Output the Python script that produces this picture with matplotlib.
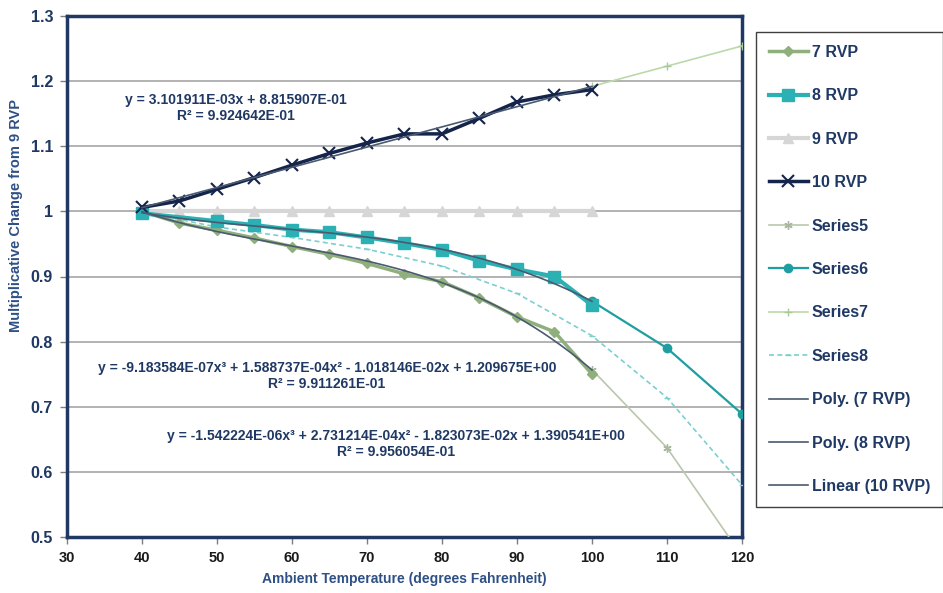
import matplotlib
matplotlib.use("Agg")
import matplotlib.pyplot as plt
import numpy as np

plt.rcParams['font.family'] = ['Liberation Sans', 'DejaVu Sans']

# ---- data ----
temp_7 = [40, 45, 50, 55, 60, 65, 70, 75, 80, 85, 90, 95, 100]
rvp7 = [1.000, 0.982, 0.971, 0.959, 0.946, 0.934, 0.920, 0.904, 0.892, 0.867, 0.838, 0.815, 0.750]

temp_8 = [40, 50, 55, 60, 65, 70, 75, 80, 85, 90, 95, 100]
rvp8 = [0.997, 0.985, 0.979, 0.972, 0.968, 0.960, 0.951, 0.941, 0.924, 0.911, 0.900, 0.856]

temp_9 = [40, 45, 50, 55, 60, 65, 70, 75, 80, 85, 90, 95, 100]
rvp9 = [1.0, 1.0, 1.0, 1.0, 1.0, 1.0, 1.0, 1.0, 1.0, 1.0, 1.0, 1.0, 1.0]

temp_10 = [40, 45, 50, 55, 60, 65, 70, 75, 80, 85, 90, 95, 100]
rvp10 = [1.006, 1.016, 1.034, 1.052, 1.071, 1.089, 1.105, 1.119, 1.119, 1.143, 1.168, 1.179, 1.187]

temp_ext = [100, 110, 120]
series5 = [0.757, 0.637, 0.471]
series6 = [0.862, 0.790, 0.689]
series7 = [1.192, 1.223, 1.254]

temp_s8 = [40, 50, 60, 70, 80, 90, 100, 110, 120]
series8 = [0.999, 0.976, 0.960, 0.942, 0.916, 0.874, 0.809, 0.714, 0.580]

# trendline coefficients (as displayed on chart)
poly7_coef = [-1.542224E-06, 2.731214E-04, -1.823073E-02, 1.390541E+00]
poly8_coef = [-9.183584E-07, 1.588737E-04, -1.018146E-02, 1.209675E+00]
lin10_coef = [3.101911E-03, 8.815907E-01]

eq10 = "y = 3.101911E-03x + 8.815907E-01\nR² = 9.924642E-01"
eq8 = "y = -9.183584E-07x³ + 1.588737E-04x² - 1.018146E-02x + 1.209675E+00\nR² = 9.911261E-01"
eq7 = "y = -1.542224E-06x³ + 2.731214E-04x² - 1.823073E-02x + 1.390541E+00\nR² = 9.956054E-01"

x_ticks = [30, 40, 50, 60, 70, 80, 90, 100, 110, 120]
y_ticks = [0.5, 0.6, 0.7, 0.8, 0.9, 1.0, 1.1, 1.2, 1.3]
y_ticklabels = ['0.5', '0.6', '0.7', '0.8', '0.9', '1', '1.1', '1.2', '1.3']

# ---- style ----
navy = '#1f3864'
c7 = '#8fb07c'
c8 = '#2bb0b3'
c9 = '#d6d6d6'
c10 = '#14244a'
c5 = '#b9c8ad'
c6 = '#1f9ea2'
c7s = '#bcd9ab'
c8s = '#7ccfcf'
ctr = '#4a5a70'

fig = plt.figure(figsize=(9.43, 5.93), dpi=100)
ax = fig.add_axes([67/943, 1-537/593, (742-67)/943, (537-16)/593])
ax.set_xlim(30, 120)
ax.set_ylim(0.5, 1.3)

ax.set_yticks(y_ticks)
ax.set_yticklabels(y_ticklabels)
ax.set_xticks(x_ticks)
ax.grid(axis='y', color='#a6a6a6', lw=1.2, zorder=0)
for s in ax.spines.values():
    s.set_color(navy)
    s.set_linewidth(2.5)
ax.tick_params(axis='both', colors='#7f7f7f', length=5, width=1, direction='out')
for lab in ax.get_yticklabels():
    lab.set_color(navy); lab.set_fontweight('bold'); lab.set_fontsize(11.5)
for lab in ax.get_xticklabels():
    lab.set_color('#1a1a1a'); lab.set_fontweight('bold'); lab.set_fontsize(10.5)
ax.tick_params(axis='y', pad=5)
ax.tick_params(axis='x', pad=5)

ax.set_xlabel('Ambient Temperature (degrees Fahrenheit)', fontsize=10, fontweight='bold', color='#2f5085', labelpad=5)
fig.text(16/943, 1-215/593, 'Multiplicative Change from 9 RVP', rotation=90, fontsize=10.5,
         fontweight='bold', color='#2f5085', ha='center', va='center')

h9, = ax.plot(temp_9, rvp9, color=c9, lw=3, marker='^', ms=7, mfc=c9, mec=c9, zorder=3, label='9 RVP')
h5, = ax.plot(temp_ext, series5, color=c5, lw=1.2, marker=(6, 2, 0), ms=6, mec='#a9b89d', zorder=3, label='Series5')
h6, = ax.plot(temp_ext, series6, color=c6, lw=1.6, marker='o', ms=6, mfc=c6, mec=c6, zorder=3, label='Series6')
h7s, = ax.plot(temp_ext, series7, color=c7s, lw=1.2, marker='+', ms=6, mec='#a9c99a', zorder=3, label='Series7')
h8s, = ax.plot(temp_s8, series8, color=c8s, lw=1.2, ls=(0, (3, 2)), marker='_', ms=5, mec=c8s, zorder=3, label='Series8')
h7, = ax.plot(temp_7, rvp7, color=c7, lw=2.5, marker='D', ms=5.5, mfc=c7, mec=c7, zorder=4, label='7 RVP')
h8, = ax.plot(temp_8, rvp8, color=c8, lw=3, marker='s', ms=8.5, mfc=c8, mec=c8, zorder=4, label='8 RVP')
h10, = ax.plot(temp_10, rvp10, color=c10, lw=2.5, marker='x', ms=8, mew=1.5, zorder=5, label='10 RVP')

xt = np.linspace(40, 100, 200)
hp7, = ax.plot(xt, np.polyval(poly7_coef, xt), color=ctr, lw=1.2, zorder=6, label='Poly. (7 RVP)')
hp8, = ax.plot(xt, np.polyval(poly8_coef, xt), color=ctr, lw=1.2, zorder=6, label='Poly. (8 RVP)')
hl10, = ax.plot(xt, np.polyval(lin10_coef, xt), color=ctr, lw=1.2, zorder=6, label='Linear (10 RVP)')

eqkw = dict(transform=fig.transFigure, fontsize=10, fontweight='bold', color=navy,
            ha='center', va='center', linespacing=1.1, multialignment='center')
fig.text(236/943, 1-108/593, eq10, **eqkw)
fig.text(327/943, 1-376/593, eq8, **eqkw)
fig.text(396/943, 1-444/593, eq7, **eqkw)

handles = [h7, h8, h9, h10, h5, h6, h7s, h8s, hp7, hp8, hl10]
leg = fig.legend(handles=handles, loc='upper left', bbox_to_anchor=(756/943, 1-32/593),
                 frameon=True, fancybox=False, edgecolor='#404040', framealpha=1,
                 prop={'weight': 'bold', 'size': 11.5}, labelspacing=1.78, handlelength=2.45,
                 handletextpad=0.25, borderpad=0.8, borderaxespad=0)
leg.get_frame().set_linewidth(1.0)
for t in leg.get_texts():
    t.set_color(navy)

fig.savefig('out.png', dpi=100)
